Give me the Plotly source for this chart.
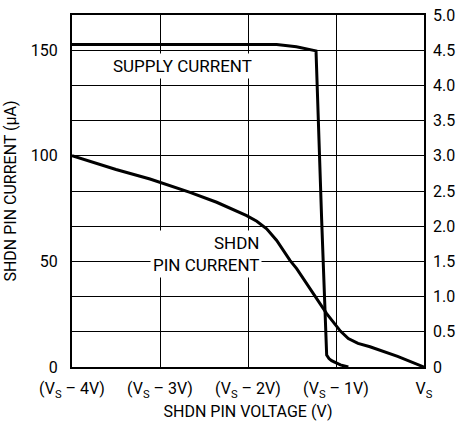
import plotly.graph_objects as go

# x: SHDN pin voltage relative to VS (V)
x_ticks = [-4, -3, -2, -1, 0]
x_tick_labels = ["(V<sub>S</sub> – 4V)", "(V<sub>S</sub> – 3V)", "(V<sub>S</sub> – 2V)",
                 "(V<sub>S</sub> – 1V)", "V<sub>S</sub>"]

# SHDN pin current (µA), left axis
pin_x = [-4.0, -3.5, -3.114, -2.659, -2.356, -2.015, -1.90, -1.788, -1.674, -1.523, -1.447,
         -1.106, -0.95, -0.860, -0.75, -0.614, -0.3, 0.0]
pin_y = [100.0, 93.5, 89.0, 82.7, 78.0, 71.7, 69.0, 65.4, 59.9, 50.5, 46.6,
         25.3, 17.0, 13.5, 11.2, 9.6, 5.0, 0.0]

# Supply current (right axis units)
sup_x = [-4.0, -3.0, -2.0, -1.674, -1.45, -1.227, -1.163, -1.144, -1.12, -1.106, -1.08, -1.05, -0.95, -0.86]
sup_y = [4.58, 4.58, 4.58, 4.58, 4.55, 4.49, 2.09, 1.52, 0.6, 0.17, 0.12, 0.09, 0.03, 0.0]

left_ticks = [0, 50, 100, 150]
right_ticks = [0, 0.5, 1.0, 1.5, 2.0, 2.5, 3.0, 3.5, 4.0, 4.5, 5.0]
right_tick_labels = ["0", "0.5", "1.0", "1.5", "2.0", "2.5", "3.0", "3.5", "4.0", "4.5", "5.0"]

FONT = "Roboto, Liberation Sans, sans-serif"
FS = 16

fig = go.Figure()
fig.add_trace(go.Scatter(x=pin_x, y=pin_y, mode="lines", yaxis="y",
                         line=dict(color="black", width=3), showlegend=False))
fig.add_trace(go.Scatter(x=sup_x, y=sup_y, mode="lines", yaxis="y2",
                         line=dict(color="black", width=3), showlegend=False))

fig.update_layout(
    width=459, height=423,
    margin=dict(l=72, r=35, t=15, b=56, autoexpand=False),
    paper_bgcolor="white", plot_bgcolor="white",
    font=dict(family=FONT, size=FS, color="black"),
    xaxis=dict(range=[-4, 0], tickvals=x_ticks, ticktext=x_tick_labels,
               showgrid=True, gridcolor="black", gridwidth=1,
               showline=True, linecolor="black", linewidth=2, mirror=True,
               ticks="", zeroline=False, ticklabelstandoff=6, automargin=False,
               title=dict(text="SHDN PIN VOLTAGE (V)", standoff=6, font=dict(size=FS))),
    yaxis=dict(range=[0, 500/3], tickvals=left_ticks, showgrid=False,
               showline=True, linecolor="black", linewidth=2, mirror=True,
               ticks="", zeroline=False, ticklabelstandoff=9, automargin=False,
               title=dict(text="SHDN PIN CURRENT (µA)", standoff=10, font=dict(size=FS))),
    yaxis2=dict(range=[0, 5], overlaying="y", side="right",
                tickvals=right_ticks, ticktext=right_tick_labels,
                showgrid=True, gridcolor="black", gridwidth=1,
                showline=False, ticks="", zeroline=False, ticklabelstandoff=8,
                automargin=False),
    annotations=[
        dict(text="SUPPLY CURRENT", x=-2.74, y=4.28, xref="x", yref="y2",
             showarrow=False, bgcolor="white", font=dict(size=17), borderpad=2),
        dict(text="SHDN<br>PIN CURRENT", x=-1.84, y=1.6, xref="x", yref="y2",
             showarrow=False, bgcolor="white", align="right", xanchor="right",
             font=dict(size=17), borderpad=2),
    ],
)

fig.write_html("out.html", config={"displayModeBar": False},
               post_script="document.body.style.margin='0';")
